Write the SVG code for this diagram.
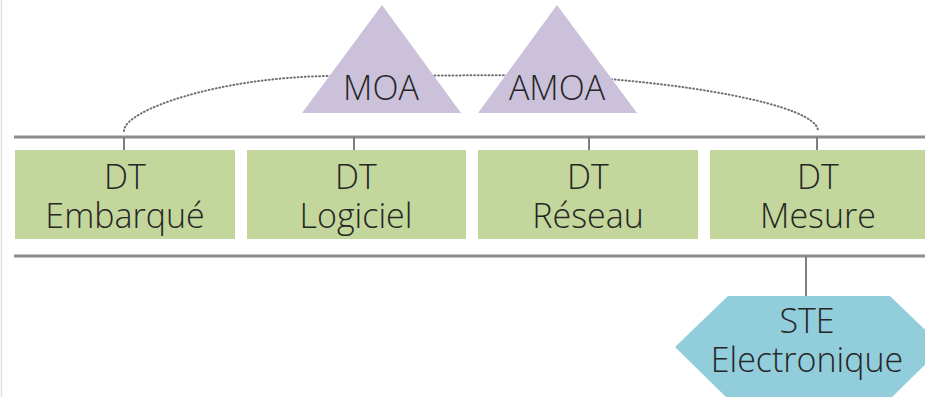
<svg xmlns="http://www.w3.org/2000/svg" width="925" height="397" viewBox="0 0 925 397">
<style>
.bar{stroke:#8c8c8c;stroke-width:3;fill:none}
.tick{stroke:#7f7f7f;stroke-width:2;fill:none}
.dot{stroke:#6f6f6f;stroke-width:2;fill:none;stroke-dasharray:0.8 2.8;stroke-linecap:round}
.box{fill:#C3D69B}
.tri{fill:#CCC1DA}
.hex{fill:#92CDDC}
text{font-family:"Open Sans","Liberation Sans",sans-serif;font-weight:300;font-size:34px;fill:#262626;text-anchor:middle}
</style>
<rect x="0" y="0" width="925" height="397" fill="#ffffff"/>
<line x1="1.5" y1="0" x2="1.5" y2="397" stroke="#e0e0e0" stroke-width="1.5"/>
<g id="connectors">
<path class="dot" d="M124,131 C124,110 220,77 330,76 L540,75 C680,80 818,105 818,131"/>
<line class="bar" x1="14" y1="137" x2="925" y2="137"/>
<line class="bar" x1="14" y1="256" x2="925" y2="256"/>
<line class="tick" x1="124" y1="137" x2="124" y2="150"/>
<line class="tick" x1="354" y1="137" x2="354" y2="150"/>
<line class="tick" x1="589" y1="137" x2="589" y2="150"/>
<line class="tick" x1="817" y1="137" x2="817" y2="150"/>
<line class="tick" x1="806" y1="256" x2="806" y2="296"/>
</g>
<g id="moa">
<polygon class="tri" points="382,5 461,113 302,113"/>
<text x="381" y="100">MOA</text>
</g>
<g id="amoa">
<polygon class="tri" points="557,5 637,113 478,113"/>
<text x="557" y="100">AMOA</text>
</g>
<g id="dt-embarque">
<rect class="box" x="15" y="150" width="220" height="89"/>
<text x="125" y="189">DT</text>
<text x="125" y="228">Embarqué</text>
</g>
<g id="dt-logiciel">
<rect class="box" x="247" y="150" width="219" height="89"/>
<text x="356" y="189">DT</text>
<text x="356" y="228">Logiciel</text>
</g>
<g id="dt-reseau">
<rect class="box" x="478" y="150" width="220" height="89"/>
<text x="588" y="189">DT</text>
<text x="588" y="228">Réseau</text>
</g>
<g id="dt-mesure">
<rect class="box" x="710" y="150" width="215" height="89"/>
<text x="818" y="189">DT</text>
<text x="818" y="228">Mesure</text>
</g>
<g id="ste-electronique">
<polygon class="hex" points="728,296 890,296 943,347 890,399 728,399 675,347"/>
<text x="807" y="333">STE</text>
<text x="807" y="372">Electronique</text>
</g>
</svg>
